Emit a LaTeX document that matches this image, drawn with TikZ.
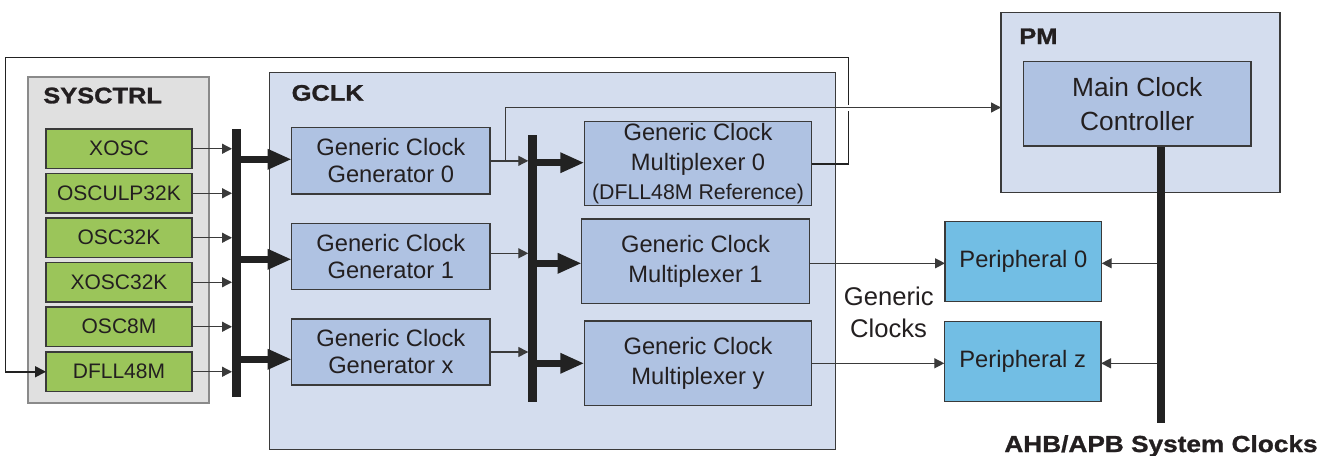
\documentclass[tikz,border=0pt]{standalone}
\usepackage{fontspec}
\setmainfont{Liberation Sans}
\newfontfamily\titlefont{Liberation Sans}[FakeStretch=1.13, BoldFeatures={FakeBold=1.2}]
\usetikzlibrary{arrows.meta}
\definecolor{txt}{HTML}{231F20}
\definecolor{grn}{HTML}{9BC55A}
\definecolor{blk}{HTML}{AFC2E2}
\definecolor{bgb}{HTML}{D4DDEE}
\definecolor{sys}{HTML}{E0E0E0}
\definecolor{sysedge}{HTML}{8A8A8A}
\definecolor{per}{HTML}{72BEE4}
\definecolor{edge}{HTML}{3A3A3A}
\definecolor{barc}{HTML}{222222}
\begin{document}
\begin{tikzpicture}[x=1pt,y=-1pt,
 every node/.style={inner sep=0pt, outer sep=0pt, text=txt},
 frame/.style={draw=edge, line width=1.5pt, anchor=north west},
 group/.style={frame, fill=bgb},
 blockbox/.style={frame, fill=blk, align=center, font=\fontsize{23.7}{27}\selectfont},
 oscbox/.style={frame, fill=grn, minimum width=146pt, minimum height=39.5pt, font=\fontsize{21}{24}\selectfont},
 perbox/.style={frame, fill=per, minimum width=156.7pt, minimum height=80pt, font=\fontsize{23.7}{27}\selectfont},
 busbar/.style={fill=barc, anchor=north west, minimum width=8.5pt},
 smallarrow/.style={draw=edge, line width=1.3pt, -{Triangle[length=10pt,width=10pt]}},
 bigarrow/.style={draw=barc, line width=7.5pt, -{Triangle[length=24pt,width=19pt]}},
 loopline/.style={draw=barc, line width=1.8pt, -{Triangle[length=11pt,width=11pt]}},
 titletext/.style={anchor=base west, font=\titlefont\bfseries\fontsize{22.5}{26}\selectfont},
 labeltext/.style={anchor=base, font=\fontsize{25.6}{30}\selectfont},
]
\useasboundingbox (0,0) rectangle (1324,455);
% groups
\node[frame, fill=sys, draw=sysedge, minimum width=181pt, minimum height=326pt] (sysctrl) at (28,77) {};
\node[group, minimum width=566pt, minimum height=377pt] (gclk) at (269.5,72.3) {};
\node[group, minimum width=279pt, minimum height=180.4pt] (pm) at (1001,12.3) {};
\node[titletext] (t1) at (43.3,103.3) {SYSCTRL};
\node[titletext] (t2) at (291.7,100.7) {GCLK};
\node[titletext] (t3) at (1019.3,44) {PM};
% oscillators
\node[oscbox] (xosc) at (46,129) {XOSC};
\node[oscbox] (osculp) at (46,173.5) {OSCULP32K};
\node[oscbox] (osc32k) at (46,218) {OSC32K};
\node[oscbox] (xosc32k) at (46,262.5) {XOSC32K};
\node[oscbox] (osc8m) at (46,307) {OSC8M};
\node[oscbox] (dfll) at (46,352) {DFLL48M};
% buses
\node[busbar, minimum height=268pt] (bus1) at (232,129) {};
\node[busbar, minimum height=267pt] (bus2) at (528.3,135.3) {};
\node[busbar, minimum width=7.5pt, minimum height=277pt] (sysbar) at (1157.3,146.3) {};
% generators
\node[blockbox, minimum width=198.3pt, minimum height=66.3pt] (gen0) at (291.7,127.7) {Generic Clock\\Generator 0};
\node[blockbox, minimum width=198.3pt, minimum height=66pt] (gen1) at (291.7,223.3) {Generic Clock\\Generator 1};
\node[blockbox, minimum width=198.3pt, minimum height=66pt] (genx) at (291.7,319) {Generic Clock\\Generator x};
% multiplexers
\node[blockbox, minimum width=227.4pt, minimum height=84pt, font=\fontsize{23.7}{29.5}\selectfont] (mux0) at (584.3,121.7) {Generic Clock\\Multiplexer 0\\{\fontsize{21.3}{29.5}\selectfont(DFLL48M Reference)}};
\node[blockbox, minimum width=227.6pt, minimum height=84.3pt, font=\fontsize{23.7}{30}\selectfont] (mux1) at (581.7,219) {Generic Clock\\Multiplexer 1};
\node[blockbox, minimum width=227.4pt, minimum height=84.3pt, font=\fontsize{23.7}{30}\selectfont] (muxy) at (584.3,321) {Generic Clock\\Multiplexer y};
% PM
\node[blockbox, minimum width=227.7pt, minimum height=84.3pt, font=\fontsize{26.3}{34}\selectfont] (mcc) at (1023.3,61.7) {Main Clock\\Controller};
% peripherals
\node[perbox] (per0) at (945,221.7) {Peripheral 0};
\node[perbox] (perz) at (944.3,321.7) {Peripheral z};
% labels
\node[labeltext] (gc1) at (888.8,305) {Generic};
\node[labeltext] (gc2) at (888.6,337.7) {Clocks};
\node[titletext, anchor=base, font=\titlefont\bfseries\fontsize{23.2}{26}\selectfont] (ahb) at (1161,452) {AHB/APB System Clocks};
% helper coordinates
\coordinate (a0) at (0,159.3);
\coordinate (a1) at (0,259.3);
\coordinate (a2) at (0,359.3);
\coordinate (g1) at (0,253.3);
\coordinate (m0) at (0,162.7);
\coordinate (m1) at (0,263.3);
\coordinate (m2) at (0,363.3);
\coordinate (pmy) at (0,107.5);
\coordinate (br) at (505.7,160.85);
\coordinate (lpR) at (848.5,57.5);
\coordinate (lpL) at (5.5,57.5);
% oscillator arrows
\foreach \n in {xosc,osculp,osc32k,xosc32k,osc8m,dfll}
  \draw[smallarrow] (\n.east) -- (\n.east -| bus1.west);
% bus1 to generators
\draw[bigarrow] (bus1.east |- a0) -- (gen0.west |- a0);
\draw[bigarrow] (bus1.east |- a1) -- (gen1.west |- a1);
\draw[bigarrow] (bus1.east |- a2) -- (genx.west |- a2);
% generators to bus2
\draw[smallarrow] (gen0.east) -- (gen0.east -| bus2.west);
\draw[smallarrow] (gen1.east |- g1) -- (bus2.west |- g1);
\draw[smallarrow] (genx.east) -- (genx.east -| bus2.west);
% bus2 to muxes
\draw[bigarrow] (bus2.east |- m0) -- (mux0.west |- m0);
\draw[bigarrow] (bus2.east |- m1) -- (mux1.west |- m1);
\draw[bigarrow] (bus2.east |- m2) -- (muxy.west |- m2);
% generic clocks to peripherals
\draw[smallarrow] (mux1.east |- m1) -- (per0.west |- m1);
\draw[smallarrow] (muxy.east |- m2) -- (perz.west |- m2);
% system clocks to peripherals
\draw[smallarrow] (sysbar.west |- m1) -- (per0.east |- m1);
\draw[smallarrow] (sysbar.west |- m2) -- (perz.east |- m2);
% feedback loop to DFLL48M
\draw[loopline] (mux0.east) -| (lpR) -- (lpL) |- (dfll.west);
% gap and line to PM
\draw[white, line width=6pt] (842,107.5) -- (855,107.5);
\draw[smallarrow] (br) |- (pm.west |- pmy);
\end{tikzpicture}
\end{document}
